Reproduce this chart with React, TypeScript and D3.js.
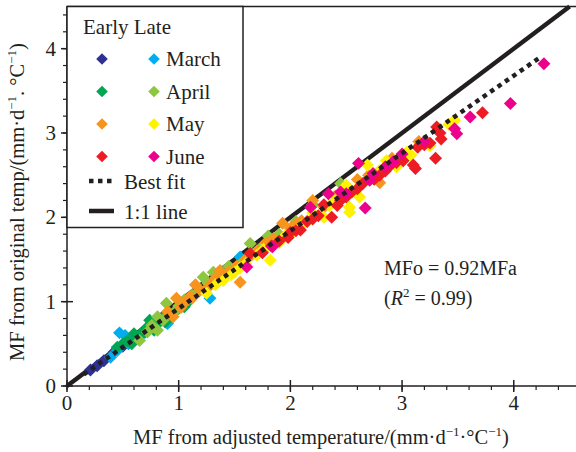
import React from 'react';
import * as d3 from 'd3';

// [adjusted, original] pairs
const marchEarly = [[0.21, 0.19], [0.27, 0.24], [0.33, 0.3], [0.42, 0.4], [0.5, 0.47], [0.58, 0.55]];
const marchLate = [[0.39, 0.34], [0.45, 0.42], [0.47, 0.63], [0.52, 0.6], [0.55, 0.5], [0.6, 0.56], [0.68, 0.62], [0.78, 0.7], [0.9, 0.74], [1.28, 1.04], [1.55, 1.53], [1.75, 1.6], [2.2, 2.15]];
const aprilEarly = [[0.45, 0.46], [0.5, 0.5], [0.54, 0.54], [0.58, 0.5], [0.6, 0.62], [0.63, 0.58], [0.66, 0.62], [0.7, 0.64], [0.72, 0.7], [0.74, 0.78], [0.78, 0.66], [0.8, 0.72], [0.82, 0.76], [0.85, 0.8], [0.88, 0.76], [0.92, 0.82], [0.95, 0.86], [1.0, 0.92], [1.05, 0.94], [1.1, 1.02], [1.4, 1.36]];
const aprilLate = [[0.65, 0.54], [0.72, 0.64], [0.76, 0.72], [0.81, 0.82], [0.81, 0.66], [0.86, 0.78], [0.89, 0.98], [0.92, 0.86], [0.98, 0.9], [1.0, 0.95], [1.05, 1.02], [1.12, 1.08], [1.18, 1.12], [1.22, 1.29], [1.26, 1.22], [1.31, 1.35], [1.35, 1.3], [1.45, 1.42], [1.5, 1.38], [1.58, 1.48], [1.64, 1.69], [1.72, 1.62], [1.8, 1.78], [1.9, 1.8], [2.05, 1.95], [2.2, 2.15], [2.45, 2.4]];
const mayEarly = [[0.9, 0.88], [0.95, 0.82], [0.98, 1.04], [1.02, 0.93], [1.05, 0.98], [1.1, 1.06], [1.12, 1.04], [1.15, 1.2], [1.19, 1.14], [1.25, 1.15], [1.3, 1.22], [1.33, 1.28], [1.37, 1.37], [1.42, 1.3], [1.45, 1.36], [1.52, 1.42], [1.55, 1.23], [1.6, 1.5], [1.65, 1.55], [1.7, 1.6], [1.78, 1.7], [1.85, 1.75], [1.93, 1.93], [2.0, 1.87], [2.05, 1.92], [2.1, 1.96], [2.2, 2.2], [2.3, 2.12], [2.4, 2.25], [2.5, 2.32], [2.6, 2.45], [2.7, 2.5], [2.8, 2.41], [2.91, 2.7], [3.15, 2.9]];
const mayLate = [[1.25, 1.1], [1.33, 1.2], [1.4, 1.25], [1.47, 1.32], [1.5, 1.35], [1.55, 1.4], [1.6, 1.45], [1.7, 1.55], [1.76, 1.62], [1.82, 1.49], [1.9, 1.7], [1.95, 1.78], [2.01, 1.81], [2.1, 1.9], [2.15, 1.95], [2.2, 2.05], [2.3, 2.0], [2.35, 2.14], [2.4, 2.2], [2.5, 2.38], [2.53, 2.12], [2.53, 2.06], [2.58, 2.32], [2.62, 2.24], [2.69, 2.62], [2.75, 2.5], [2.8, 2.56], [2.86, 2.67], [2.95, 2.6], [3.04, 2.77], [3.08, 2.74], [3.25, 2.85], [3.42, 3.1], [3.47, 3.15]];
const juneEarly = [[1.64, 1.57], [1.75, 1.58], [1.83, 1.66], [1.9, 1.72], [1.98, 1.76], [2.0, 1.82], [2.05, 1.84], [2.09, 1.85], [2.15, 1.95], [2.2, 1.98], [2.25, 2.02], [2.3, 2.15], [2.37, 2.0], [2.42, 2.14], [2.45, 2.2], [2.5, 2.24], [2.55, 2.3], [2.6, 2.34], [2.65, 2.4], [2.75, 2.45], [2.8, 2.5], [2.85, 2.55], [2.9, 2.62], [2.95, 2.65], [3.01, 2.67], [3.1, 2.62], [3.12, 2.58], [3.14, 2.83], [3.2, 2.86], [3.25, 2.88], [3.3, 2.7], [3.31, 3.07], [3.34, 3.0], [3.35, 2.93], [3.72, 3.24]];
const juneLate = [[1.61, 1.41], [1.84, 1.65], [2.18, 2.12], [2.34, 2.28], [2.45, 2.3], [2.5, 2.28], [2.61, 2.64], [2.67, 2.11], [2.71, 2.44], [2.74, 2.52], [2.85, 2.6], [2.92, 2.66], [3.0, 2.75], [3.2, 2.9], [3.47, 3.05], [3.49, 2.99], [3.61, 3.19], [3.97, 3.35], [4.27, 3.82]];

const months = ['March', 'April', 'May', 'June'];
const earlyColors = ['#2e3192', '#00a651', '#f7941d', '#ed1c24'];
const lateColors = ['#00aeef', '#8dc63f', '#fff200', '#ec008c'];
const earlyData = [marchEarly, aprilEarly, mayEarly, juneEarly];
const lateData = [marchLate, aprilLate, mayLate, juneLate];

const majorTicks = [0, 1, 2, 3, 4];
const fitSlope = 0.92;
const fitRange = [0.15, 4.25];
const ink = '#231f20';
const serif = "'Liberation Serif', 'Times New Roman', serif";

export default function App() {
  const x = d3.scaleLinear().domain([0, 4.5]).range([67, 569.6]);
  const y = d3.scaleLinear().domain([0, 4.5]).range([386, 6.5]);
  const minor = d3.range(0, 4.5, 0.2);
  const diamond = d3.symbol(d3.symbolSquare, 84)();
  const legendDiamond = d3.symbol(d3.symbolSquare, 68)();

  const fitLine = d3.line<number>().x((v) => x(v)).y((v) => y(v * fitSlope));
  const oneLine = d3.line<number>().x((v) => x(v)).y((v) => y(v));

  const series: { pts: number[][]; color: string }[] = [];
  months.forEach((m, i) => {
    series.push({ pts: earlyData[i], color: earlyColors[i] });
    series.push({ pts: lateData[i], color: lateColors[i] });
  });

  return (
    <svg width={576} height={452} style={{ position: 'absolute', left: 0, top: 0, background: '#fff', fontFamily: serif }} fill={ink}>
      {/* 1:1 line under the points */}
      <path d={oneLine([0, 4.5]) || ''} stroke={ink} strokeWidth={4.5} fill="none" />

      {/* points */}
      {series.map((s, si) => (
        <g key={si} fill={s.color}>
          {s.pts.map((p, pi) => (
            <path key={pi} d={diamond} transform={`translate(${x(p[0])},${y(p[1])}) rotate(45)`} />
          ))}
        </g>
      ))}

      {/* best fit on top */}
      <path d={fitLine(fitRange) || ''} stroke={ink} strokeWidth={4.5} strokeDasharray="4.5 4.5" fill="none" />

      {/* frame / axes */}
      <line x1={67} x2={576} y1={386} y2={386} stroke={ink} strokeWidth={1.5} />
      <line x1={67} x2={67} y1={6.5} y2={386} stroke={ink} strokeWidth={1.5} />
      <line x1={67} x2={576} y1={6.5} y2={6.5} stroke={ink} strokeWidth={1.5} />
      {minor.map((t) => (
        <g key={t} stroke={ink} strokeWidth={1.2}>
          <line x1={x(t)} x2={x(t)} y1={386} y2={390} />
          <line x1={63} x2={67} y1={y(t)} y2={y(t)} />
        </g>
      ))}
      {majorTicks.map((t) => (
        <g key={t} stroke={ink} strokeWidth={1.5}>
          <line x1={x(t)} x2={x(t)} y1={380} y2={392} />
          <line x1={61} x2={73} y1={y(t)} y2={y(t)} />
        </g>
      ))}
      {majorTicks.map((t) => (
        <g key={t} fontSize={21}>
          <text x={x(t)} y={410} textAnchor="middle">{t}</text>
          <text x={56} y={y(t) + 7} textAnchor="end">{t}</text>
        </g>
      ))}

      {/* axis titles */}
      <text x={321} y={444} textAnchor="middle" fontSize={20.5}>
        MF from adjusted temperature/(mm·d
        <tspan fontSize={13} dy={-8}>−1</tspan>
        <tspan dy={8}>·°C</tspan>
        <tspan fontSize={13} dy={-8}>−1</tspan>
        <tspan dy={8}>)</tspan>
      </text>
      <text transform="translate(24,202) rotate(-90)" textAnchor="middle" fontSize={20.5}>
        MF from original temp/(mm·d
        <tspan fontSize={13} dy={-8}>−1</tspan>
        <tspan dy={8}>. °C</tspan>
        <tspan fontSize={13} dy={-8}>−1</tspan>
        <tspan dy={8}>)</tspan>
      </text>

      {/* legend */}
      <rect x={67} y={6.5} width={176} height={221} fill="#fff" stroke={ink} strokeWidth={1.5} />
      <text x={83} y={34} fontSize={21}>Early Late</text>
      {months.map((m, i) => (
        <g key={m}>
          <path d={legendDiamond} transform={`translate(102,${59 + i * 32.5}) rotate(45)`} fill={earlyColors[i]} />
          <path d={legendDiamond} transform={`translate(154,${59 + i * 32.5}) rotate(45)`} fill={lateColors[i]} />
          <text x={166} y={66 + i * 32.5} fontSize={21}>{m}</text>
        </g>
      ))}
      <line x1={89} x2={113} y1={181} y2={181} stroke={ink} strokeWidth={4.5} strokeDasharray="4.5 4.5" />
      <text x={124} y={189} fontSize={21}>Best fit</text>
      <line x1={89} x2={114} y1={211} y2={211} stroke={ink} strokeWidth={4.5} />
      <text x={124} y={219} fontSize={21}>1:1 line</text>

      {/* annotation */}
      <text x={384} y={275} fontSize={20}>MFo = 0.92MFa</text>
      <text x={384} y={305} fontSize={20}>
        (<tspan fontStyle="italic">R</tspan>
        <tspan fontSize={13} dy={-8}>2</tspan>
        <tspan dy={8}> = 0.99)</tspan>
      </text>
    </svg>
  );
}
